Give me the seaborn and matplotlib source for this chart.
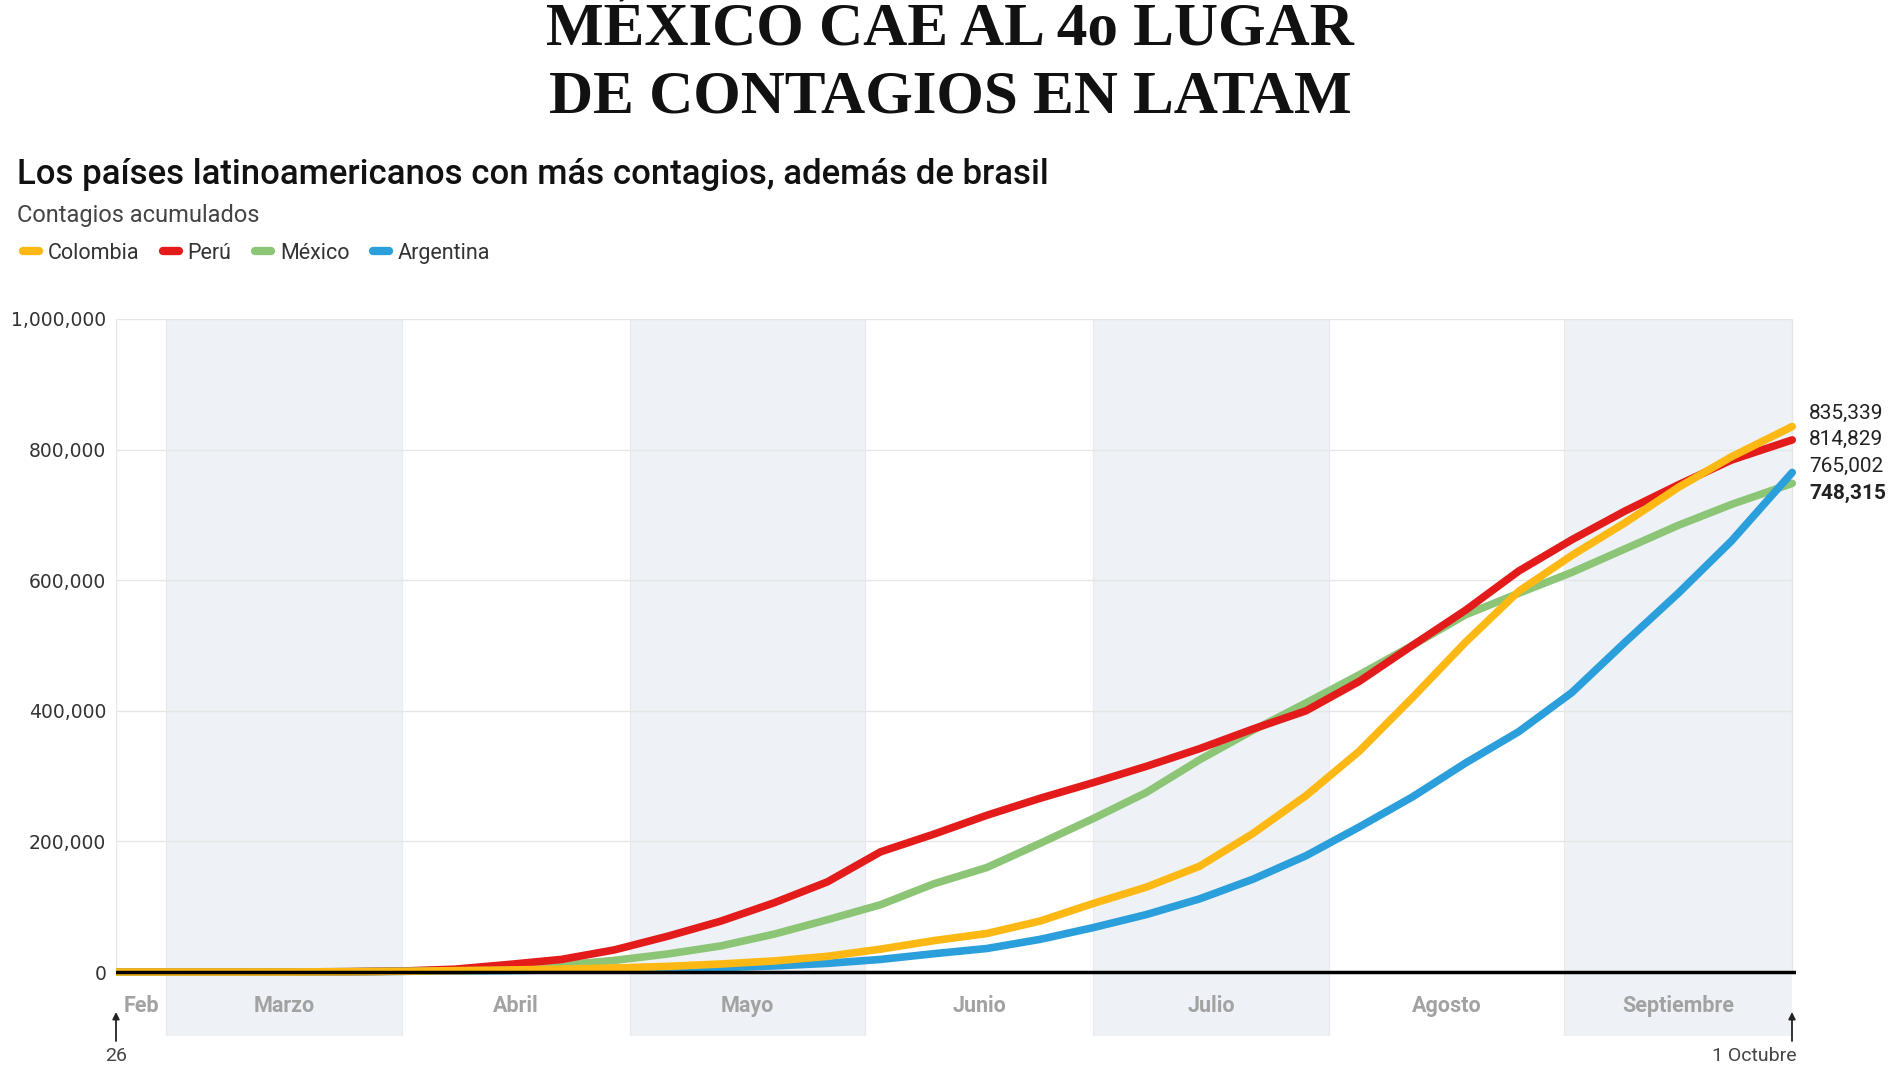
import pandas as pd
import matplotlib.pyplot as plt
import matplotlib.transforms as mtransforms
from matplotlib.font_manager import FontProperties
from matplotlib.lines import Line2D
import seaborn as sns

# Data (cumulative cases)
fechas = ['2020-02-23', '2020-03-04', '2020-03-11', '2020-03-18', '2020-03-25',
          '2020-04-01', '2020-04-08', '2020-04-15', '2020-04-22', '2020-04-29',
          '2020-05-06', '2020-05-13', '2020-05-20', '2020-05-27', '2020-06-03',
          '2020-06-10', '2020-06-17', '2020-06-24', '2020-07-01', '2020-07-08',
          '2020-07-15', '2020-07-22', '2020-07-29', '2020-08-05', '2020-08-12',
          '2020-08-19', '2020-08-26', '2020-09-02', '2020-09-09', '2020-09-16',
          '2020-09-23', '2020-10-01']

colombia = [0, 0, 9, 93, 470, 1065, 2054, 3105, 4356, 6211, 8613, 12272, 16935,
            24000, 35000, 48000, 59000, 78000, 105000, 130000, 162000, 212000,
            270000, 338000, 420000, 505000, 583000, 638000, 688000, 742000,
            789000, 835339]
peru = [0, 0, 11, 145, 480, 1414, 4342, 11475, 19250, 33931, 54817, 78000, 106000,
        138000, 184000, 211000, 240000, 266000, 290000, 315000, 342000, 372000,
        400000, 445000, 500000, 554000, 614000, 662000, 706000, 746000, 784000,
        814829]
mexico = [0, 5, 7, 118, 475, 1378, 3181, 5847, 10544, 17799, 27634, 40000, 58000,
          80000, 103000, 135000, 160000, 197000, 235000, 275000, 325000, 370000,
          412000, 455000, 500000, 547000, 580000, 612000, 648000, 684000, 716000,
          748315]
argentina = [0, 1, 19, 79, 387, 1054, 1715, 2272, 3144, 4285, 5208, 6879, 9283,
             13228, 19268, 28000, 36000, 50000, 68000, 88000, 112000, 142000,
             178000, 222000, 268000, 320000, 368000, 428000, 505000, 580000,
             660000, 765002]

paises = ['Colombia', 'Perú', 'México', 'Argentina']
colores = {'Colombia': '#FDB813', 'Perú': '#E31B1B', 'México': '#8CC576',
           'Argentina': '#2A9FDB'}
orden_dibujo = ['México', 'Perú', 'Argentina', 'Colombia']

meses = ['Marzo', 'Abril', 'Mayo', 'Junio', 'Julio', 'Agosto', 'Septiembre']
inicio_mes = ['2020-03-01', '2020-04-01', '2020-05-01', '2020-06-01',
              '2020-07-01', '2020-08-01', '2020-09-01', '2020-10-01']

yticks = [0, 200000, 400000, 600000, 800000, 1000000]
etiquetas_finales = ['835,339', '814,829', '765,002', '748,315']
y_etiquetas = [855000, 816000, 774000, 733000]

df = pd.DataFrame({'Fecha': pd.to_datetime(fechas), 'Colombia': colombia,
                   'Perú': peru, 'México': mexico, 'Argentina': argentina})

sns.set_style('white')
plt.rcParams['font.family'] = ['Roboto', 'DejaVu Sans']

fig = plt.figure(figsize=(19, 10.68), dpi=100)
ax = fig.add_axes([116 / 1900, 32 / 1068, 1680 / 1900, 717 / 1068])

x_izq = pd.Timestamp('2020-02-23 09:00')
x_der = pd.Timestamp('2020-10-01 12:00')
ultimo = pd.Timestamp(fechas[-1])

# alternating month bands
for i in range(0, len(meses), 2):
    ax.axvspan(pd.Timestamp(inicio_mes[i]), pd.Timestamp(inicio_mes[i + 1]),
               color='#eef2f6', lw=0, zorder=0)
for d in inicio_mes[:-1]:
    ax.axvline(pd.Timestamp(d), color='#e7eaee', lw=0.8, zorder=0.5)

# grid
ax.hlines(yticks[1:], x_izq, ultimo, color='#e6e6e6', lw=1, zorder=1)
ax.vlines([x_izq, ultimo], 0, 1000000, color='#e6e6e6', lw=1, zorder=1)

for p in orden_dibujo:
    sns.lineplot(data=df, x='Fecha', y=p, color=colores[p], lw=5.5, ax=ax,
                 zorder=3, solid_capstyle='round', legend=False)

ax.axhline(0, color='black', lw=2.5, zorder=5)

ax.set_xlim(x_izq, x_der)
ax.set_ylim(-98000, 1000000)
ax.set_yticks(yticks)
ax.set_yticklabels([f'{v:,}' for v in yticks],
                   fontproperties=FontProperties(family='DejaVu Sans', size=13.5),
                   color='#333333')
ax.tick_params(axis='y', length=0, pad=7)
ax.set_xticks([])
ax.set_xlabel('')
ax.set_ylabel('')
sns.despine(ax=ax, left=True, bottom=True)

# month labels
ax.text(x_izq + pd.Timedelta(days=1), -52000, 'Feb', ha='left', va='center',
        fontsize=15.5, weight='bold', color='#a2a2a2')
for i, m in enumerate(meses):
    a = pd.Timestamp(inicio_mes[i])
    b = pd.Timestamp(inicio_mes[i + 1])
    ax.text(a + (b - a) / 2, -52000, m, ha='center', va='center',
            fontsize=15.5, weight='bold', color='#a2a2a2')

# end value labels
trans = mtransforms.blended_transform_factory(fig.transFigure, ax.transData)
for i, (t, y) in enumerate(zip(etiquetas_finales, y_etiquetas)):
    ax.text(1809 / 1900, y, t, transform=trans, ha='left', va='center',
            fontsize=15, color='#222222',
            weight='bold' if i == 3 else 'normal')

# bottom arrows
trans2 = mtransforms.blended_transform_factory(ax.transAxes, fig.transFigure)
for xx in [0, (1792 - 116) / 1680]:
    ax.annotate('', xy=(xx, 56 / 1068), xytext=(xx, 27 / 1068),
                xycoords=trans2, textcoords=trans2, annotation_clip=False,
                arrowprops=dict(arrowstyle='-|>', color='#222222', lw=1.3,
                                mutation_scale=10, shrinkA=0, shrinkB=0))
ax.text(0, 3 / 1068, '26', transform=trans2, ha='center', va='bottom',
        fontsize=14, color='#444444')
ax.text((1797 - 116) / 1680, 3 / 1068, '1 Octubre', transform=trans2,
        ha='right', va='bottom', fontsize=14, color='#444444')

# legend
handles = [Line2D([0], [0], color=colores[p], lw=6, solid_capstyle='round')
           for p in paises]
fig.legend(handles, paises, loc='center left', bbox_to_anchor=(0.012, 0.763),
           ncol=4, frameon=False, fontsize=15.5, handlelength=0.75,
           handletextpad=0.4, columnspacing=1.1, borderpad=0,
           borderaxespad=0, labelcolor='#333333')

# titles
fig.text(0.5, 0.958, 'MÉXICO CAE AL 4o LUGAR', ha='center', va='baseline',
         fontsize=44, weight='bold', family='Liberation Serif', color='#111111')
fig.text(0.5, 0.895, 'DE CONTAGIOS EN LATAM', ha='center', va='baseline',
         fontsize=44, weight='bold', family='Liberation Serif', color='#111111')
fig.text(0.009, 0.8277,
         'Los países latinoamericanos con más contagios, además de brasil',
         ha='left', va='baseline', fontsize=25, weight='medium',
         color='#111111')
fig.text(0.009, 0.792, 'Contagios acumulados', ha='left', va='baseline',
         fontsize=17, color='#444444')

fig.savefig('out.png', dpi=100, facecolor='white')
